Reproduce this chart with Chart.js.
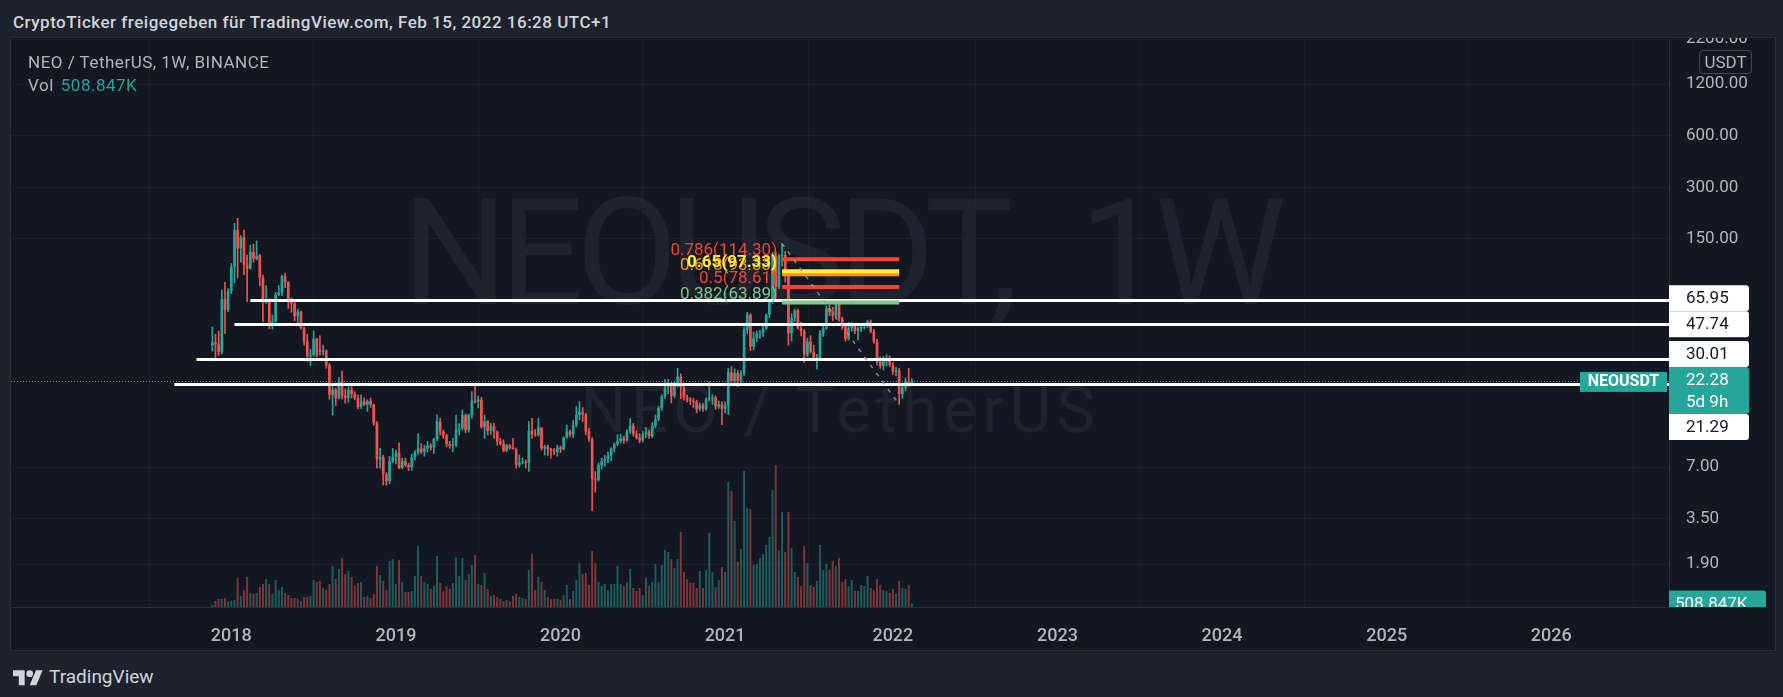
<!DOCTYPE html>
<html>
<head>
<meta charset="utf-8">
<title>NEOUSDT 1W</title>
<script src="https://cdn.jsdelivr.net/npm/chart.js@4.4.0/dist/chart.umd.min.js"></script>
<style>
  body { margin: 0; width: 1783px; height: 697px; overflow: hidden; background: #1e222d; font-family: Roboto, sans-serif; }
  #header { position: absolute; left: 13px; top: 11px; font-size: 17px; letter-spacing: 0.5px; font-weight: 500; color: #d1d4dc; line-height: 22px; white-space: nowrap; }
  #pane { position: absolute; left: 11px; top: 38px; width: 1764px; height: 612px; background: #131722; outline: 1px solid #2a2e39; }
  #pane canvas { position: absolute; left: 0; top: 0; }
  .wm { position: absolute; left: 0; width: 1658px; text-align: center; color: rgba(178, 181, 190, 0.08); white-space: nowrap; line-height: 1; }
  #wm1 { top: 142px; font-size: 148px; letter-spacing: -8px; word-spacing: 40px; }
  #wm2 { top: 340px; font-size: 65px; letter-spacing: 5px; }
  #legend { position: absolute; left: 17px; top: 13px; font-size: 17px; letter-spacing: 0.5px; color: #b2b5be; line-height: 23px; }
  #legend .val { color: #26a69a; margin-left: 7px; }
  #unit { position: absolute; left: 1688px; top: 12px; width: 53px; height: 24px; box-sizing: border-box; border: 1px solid #434651; border-radius: 4px; color: #b2b5be; font-size: 17px; text-align: center; line-height: 22px; }
  #footer { position: absolute; left: 13px; top: 665px; display: flex; align-items: center; gap: 6px; color: #d1d4dc; font-size: 19px; }
</style>
</head>
<body>
<div id="header">CryptoTicker freigegeben für TradingView.com, Feb 15, 2022 16:28 UTC+1</div>
<div id="pane">
  <div class="wm" id="wm1">NEOUSDT, 1W</div>
  <div class="wm" id="wm2">NEO / TetherUS</div>
  <canvas id="chart" width="1764" height="612"></canvas>
  <div id="legend">
    <div>NEO / TetherUS, 1W, BINANCE</div>
    <div>Vol<span class="val">508.847K</span></div>
  </div>
  <div id="unit">USDT</div>
</div>
<div id="footer">
  <svg width="30" height="20" viewBox="0 0 36 24"><path d="M14 22H7V11H0V4h14v18z" fill="#d1d4dc"/><circle cx="20" cy="8" r="4" fill="#d1d4dc"/><path d="M28 22h-8l7.5-18h8L28 22z" fill="#d1d4dc"/></svg>
  <span>TradingView</span>
</div>

<script>
// weekly candles NEO/USDT, first bar = week of 20 Nov 2017
const opens = [
  35.8, 37.5, 36.4, 32.9, 67, 57.8, 74.6, 103, 169, 132,
  154, 106, 101, 126, 115, 120, 89.2, 64.7, 66, 46.8,
  49.4, 70.7, 73, 91.2, 84, 66.6, 63, 53.1, 56.5, 45.2,
  38, 31, 31.6, 39.3, 33.6, 33, 33.5, 27.5, 18.5, 19.8,
  17.6, 22.1, 18.3, 17.7, 19.8, 18.7, 17.7, 15.7, 16.9, 16.2,
  17, 16.2, 12.7, 7.8, 8, 6.36, 5.8, 7.6, 8, 8.5,
  6.9, 7.6, 7.2, 7, 8, 8.5, 9, 8.6, 9, 9.35,
  9.1, 10.2, 12.9, 11.3, 10.7, 9.5, 9.3, 9.45, 11.6, 11.8,
  14.1, 11.5, 14.1, 17.1, 16.8, 17.3, 12, 13, 11.4, 12.1,
  11.3, 9.9, 9.6, 8.7, 9.4, 9, 8.95, 7.2, 7.45, 7.5,
  7.4, 11.4, 10.9, 10.8, 11.9, 9, 9.2, 8.9, 8.75, 8.6,
  9.1, 8.9, 10.4, 11.3, 10.8, 12.3, 14.1, 14.6, 14.2, 11.3,
  10.2, 5.95, 5.9, 7.2, 7.6, 7.8, 8.2, 9, 9.5, 9.9,
  10.3, 10, 11.3, 12.2, 10.9, 10.4, 10, 10.9, 11.2, 10.6,
  12.2, 13.3, 15.5, 18.1, 20.5, 21.2, 18.2, 21, 23.6, 20.4,
  17.9, 17.4, 17, 16.8, 15.2, 16.1, 15.3, 17.4, 17.6, 17.8,
  15.8, 16.3, 15.3, 16, 25, 22.2, 24.8, 22.2, 24.6, 44.3,
  54.3, 35.4, 39.5, 42, 42.5, 45, 54.3, 64.7, 120, 79,
  119, 121, 92.5, 42.3, 51.7, 57.5, 45.2, 43.5, 31.6, 37.8,
  33, 30.2, 30.4, 42.2, 45.2, 59, 56, 53.5, 65, 51.7,
  46.8, 39.2, 45.2, 47.2, 43.5, 45.2, 46.5, 47.5, 49.4, 43.2,
  37.8, 28.8, 27.2, 29.6, 30.2, 27.6, 25.2, 25.6, 18.7, 20.4,
  22.2, 21.6
];
const highs = [
  46, 41.7, 43.6, 75.6, 83.8, 77, 108, 185, 198, 157,
  169, 121, 138, 140, 146, 122, 92.5, 80, 67, 54,
  73, 80, 92.5, 95, 84.6, 68, 64, 58.5, 57, 46,
  41.7, 34, 43.6, 39.5, 40.9, 36.1, 33.8, 28.2, 21.1, 20.2,
  23.3, 25.4, 20, 21.1, 20.6, 19.3, 18.5, 18.4, 17.7, 17.3,
  17.7, 16.3, 12.9, 9, 8.2, 6.5, 8.1, 9, 8.8, 9.7,
  7.9, 7.9, 7.4, 8.3, 8.75, 11, 9.6, 9.4, 9.9, 9.6,
  10.3, 14.1, 13.5, 11.5, 10.9, 9.9, 10.3, 14.1, 12.6, 15.1,
  14.3, 14.3, 19.3, 21.1, 18.2, 17.9, 14.1, 13.1, 12.6, 12.6,
  11.4, 10.3, 10.1, 9.5, 9.5, 10.3, 9.05, 8.25, 7.9, 7.7,
  12.9, 13.5, 11.6, 13.5, 11.9, 9.4, 9.4, 9, 9, 9.4,
  9.3, 10.5, 12.3, 11.5, 13.1, 15.8, 16.9, 15.6, 14.4, 11.8,
  10.4, 6.6, 7.4, 7.9, 8.2, 8.6, 9.1, 9.7, 10.8, 10.9,
  10.6, 11.6, 13.5, 12.6, 11.4, 11, 11.3, 11.9, 11.5, 12.7,
  14.1, 15.8, 18.5, 22.8, 22.8, 21.8, 22, 26.4, 24.5, 20.8,
  18.4, 17.8, 17.6, 17.2, 16.6, 16.5, 17.8, 22, 18.5, 18.2,
  17, 16.8, 16.8, 26.4, 27, 26.2, 25.6, 25.6, 46, 56,
  55, 43, 43.5, 44, 47, 55, 66, 125, 126, 122,
  141, 127, 98, 55, 58.5, 58.5, 49, 44.5, 39.5, 41,
  36, 31.8, 44, 47, 61, 62, 60, 66, 66, 52.5,
  48, 49, 49, 48, 46, 47.5, 48.5, 50.5, 50.5, 44.5,
  39, 30.8, 31, 31.6, 31.2, 28.5, 26.8, 26.4, 21, 23.2,
  26.4, 22.9
];
const lows = [
  33.3, 29.1, 31.3, 32, 42, 56.5, 72, 83, 89, 110,
  93, 64.7, 100, 110, 113, 80, 49.4, 63, 45, 44.7,
  49, 70, 70, 78, 59, 56, 50, 47, 44.7, 36,
  28.9, 27.4, 31, 30.8, 31.5, 31.6, 26.4, 17.4, 14.1, 16,
  17.5, 17.5, 16.5, 16.7, 17.7, 17.3, 15.3, 15.4, 16, 14.8,
  15.6, 12.3, 6.9, 6.9, 5.5, 5.5, 5.6, 7.4, 7.3, 6.85,
  6.85, 7.05, 6.7, 6.7, 7.7, 8.3, 8.4, 8.1, 8.6, 8.8,
  8.4, 10, 10.8, 10.3, 9.2, 9, 8.6, 9.2, 10.8, 11.5,
  11.1, 11.2, 13.5, 16.6, 15.5, 11.8, 10.3, 10.8, 10.9, 10.3,
  9.4, 9.4, 8.6, 8.65, 8.9, 8.9, 6.9, 7, 7.3, 6.9,
  6.6, 10.3, 10.6, 10.6, 8.8, 8.25, 8.2, 7.9, 8.3, 8.1,
  8.5, 8.8, 10.3, 10.5, 10.4, 12, 13.2, 12.9, 10.8, 9.9,
  3.9, 5, 5.8, 6.8, 7.1, 7.4, 7.6, 8.6, 9.35, 9.7,
  9.6, 9.9, 11, 10.6, 10.2, 9.7, 9.8, 10.4, 10.3, 10.4,
  11.9, 13, 15, 17.6, 18.8, 16.6, 17.8, 20.5, 17.5, 17.2,
  16.8, 16.2, 15.6, 14.5, 14.9, 14.8, 15, 17, 16.3, 15.2,
  15.4, 12.4, 14.5, 14.2, 21, 21.5, 20.6, 21.8, 24, 42,
  33.5, 33.8, 37.8, 39.5, 40.5, 44.5, 52, 63, 66, 77,
  104, 84, 36, 38, 49.5, 44.7, 40.8, 28.5, 30.8, 32.5,
  29.8, 26.2, 29.8, 40.5, 44.5, 53.5, 50, 52, 49.5, 44.5,
  38, 38.5, 43.5, 42, 38.6, 43.2, 44.7, 45.5, 42.5, 37,
  27.6, 26.4, 25.8, 27.2, 27, 24.3, 23.8, 16.24, 17.6, 19.5,
  20.8, 21.1
];
const closes = [
  37.5, 36.4, 32.9, 67, 57.8, 74.6, 103, 169, 132, 154,
  106, 101, 126, 115, 120, 89.2, 64.7, 66, 46.8, 49.4,
  70.7, 73, 91.2, 84, 66.6, 63, 53.1, 56.5, 45.2, 38,
  31, 31.6, 39.3, 31.6, 33, 33.5, 27.5, 18.5, 19.8, 17.6,
  22.1, 18.3, 17.7, 19.8, 18.7, 17.7, 15.7, 16.9, 16.2, 17,
  16.2, 12.7, 7.8, 8, 6.36, 5.8, 7.6, 8, 8.5, 6.9,
  7.6, 7.2, 7, 8, 8.5, 9, 8.6, 9, 9.35, 9.1,
  10.2, 12.9, 11.3, 10.7, 9.5, 9.3, 9.45, 11.6, 11.8, 14.1,
  11.5, 14.1, 17.1, 16.8, 17.3, 12, 13, 11.4, 12.1, 11.3,
  9.9, 9.6, 8.7, 9.4, 9, 8.95, 7.2, 7.45, 7.5, 7.4,
  11.4, 10.9, 10.8, 11.9, 9, 9.2, 8.9, 8.75, 8.6, 9.1,
  8.9, 10.4, 11.3, 10.8, 12.3, 14.1, 14.6, 14.2, 11.3, 10.2,
  5.95, 5.9, 7.2, 7.6, 7.8, 8.2, 9, 9.5, 9.9, 10.3,
  10, 11.3, 12.2, 10.9, 10.4, 10, 10.9, 11.2, 10.6, 12.2,
  13.3, 15.5, 18.1, 20.5, 21.2, 18.2, 21, 23.6, 20.4, 17.9,
  17.4, 17, 16.8, 15.2, 16.1, 15.3, 17.4, 17.6, 17.8, 15.8,
  16.3, 15.3, 16, 25, 22.2, 24.8, 22.2, 24.6, 44.3, 54.3,
  35.4, 39.5, 42, 42.5, 45, 54.3, 64.7, 120, 79, 119,
  121, 92.5, 42.3, 51.7, 57.5, 45.2, 43.5, 31.6, 37.8, 33,
  30.2, 30.4, 42.2, 45.2, 59, 56, 53.5, 65, 51.7, 46.8,
  39.2, 45.2, 47.2, 43.5, 45.2, 46.5, 47.5, 49.4, 43.2, 37.8,
  28.8, 27.2, 29.6, 30.2, 27.6, 25.2, 25.6, 18.7, 20.4, 22.2,
  21.6, 22.28
];
// weekly volume, thousands of NEO
const volumes = [
  282, 846, 1128, 1128, 1227, 747, 846, 987, 4089, 1551,
  2397, 4230, 1974, 1833, 1974, 2820, 3243, 3948, 3243, 1833,
  3807, 2397, 2820, 1974, 1692, 1269, 1269, 1128, 846, 1410,
  1410, 1551, 3807, 3525, 3666, 2679, 2397, 3243, 5781, 3948,
  5358, 6909, 4653, 5076, 4230, 2961, 3384, 3525, 1410, 1551,
  1269, 1833, 5781, 4512, 3666, 2397, 6486, 6768, 3243, 6627,
  3525, 2115, 2115, 2256, 4371, 8601, 4371, 3525, 3243, 2538,
  2961, 7191, 3384, 2256, 2961, 2538, 3384, 7050, 4371, 6909,
  3807, 4653, 5922, 7332, 3243, 3102, 4794, 2538, 1551, 1692,
  1410, 1128, 846, 987, 846, 1551, 1833, 1410, 1269, 1128,
  5217, 7473, 2397, 4230, 3525, 2397, 1410, 1128, 1128, 1128,
  987, 1692, 3102, 1128, 2256, 3807, 6204, 4653, 4794, 3102,
  7896, 6204, 3525, 2961, 3243, 2397, 3243, 3243, 5781, 3243,
  2961, 3525, 5358, 2679, 2256, 2679, 1692, 4089, 2961, 3525,
  6063, 3525, 5922, 8037, 7755, 6768, 5499, 6768, 10575, 4935,
  3948, 3384, 3384, 2679, 5076, 2679, 5217, 10434, 4935, 2820,
  3807, 5640, 4935, 17625, 16356, 12126, 6345, 8178, 19176, 13959,
  13818, 5922, 6063, 6909, 7473, 8742, 9870, 16497, 20022, 8037,
  13395, 7755, 13395, 8319, 4935, 4230, 2961, 8601, 6204, 3102,
  2820, 3666, 8742, 5217, 6063, 5217, 6486, 5781, 6909, 3525,
  3948, 2961, 3807, 2256, 2256, 3102, 2961, 4371, 2679, 2397,
  3948, 3102, 2397, 2256, 1974, 2538, 1833, 3666, 2679, 2538,
  3102, 508.847
];

// time axis: week index of first bar of each year
const yearWeeks = [6, 58, 110, 162, 215, 267, 319, 371, 423];
const yearLabels = ['2018', '2019', '2020', '2021', '2022', '2023', '2024', '2025', '2026'];
const priceTicks = [2200, 1200, 600, 300, 150, 7, 3.5, 1.9];

// horizontal levels drawn on the chart
const levelPrices = [65.95, 47.74, 30.01, 21.29];
const levelStartWeeks = [12, 7, -5, -12];

// fib retracement
const fibLevels = [0.786, 0.5, 0.382, 0.618, 0.65];
const fibPrices = [114.30, 78.61, 63.89, 93.33, 97.33];
const fibColors = ['#f44336', '#f44336', '#81c784', '#ff9800', '#ffeb3b'];
const fibStartWeek = 180;
const fibEndWeek = 217;

const countdown = '5d 9h';
const symbol = 'NEOUSDT';

const UP = '#26a69a';
const DOWN = '#ef5350';
const last = closes.length - 1;
const lastPrice = closes[last];

const weeks = opens.map((_, i) => i);
const isUp = weeks.map(i => closes[i] >= opens[i]);

const overlay = {
    id: 'overlay',
    afterDatasetsDraw(chart) {
        const { ctx, chartArea: a, scales: { x, y } } = chart;
        ctx.save();
        ctx.beginPath();
        ctx.rect(a.left, a.top, a.right - a.left, a.bottom - a.top);
        ctx.clip();

        // last price dotted line
        const yl = Math.round(y.getPixelForValue(lastPrice)) + 0.5;
        ctx.strokeStyle = UP;
        ctx.lineWidth = 1;
        ctx.setLineDash([1, 2]);
        ctx.beginPath();
        ctx.moveTo(a.left, yl);
        ctx.lineTo(a.right, yl);
        ctx.stroke();
        ctx.setLineDash([]);

        // white levels
        ctx.strokeStyle = '#ffffff';
        ctx.lineWidth = 3;
        levelPrices.forEach((p, k) => {
            const yy = Math.round(y.getPixelForValue(p)) + 0.5;
            ctx.beginPath();
            ctx.moveTo(x.getPixelForValue(levelStartWeeks[k]), yy);
            ctx.lineTo(a.right, yy);
            ctx.stroke();
        });

        // fib lines
        const fx0 = x.getPixelForValue(fibStartWeek);
        const fx1 = x.getPixelForValue(fibEndWeek);
        ctx.lineWidth = 4;
        fibPrices.forEach((p, k) => {
            const yy = y.getPixelForValue(p);
            ctx.strokeStyle = fibColors[k];
            ctx.beginPath();
            ctx.moveTo(fx0, yy);
            ctx.lineTo(fx1, yy);
            ctx.stroke();
        });

        // trend line of the fib
        ctx.strokeStyle = 'rgba(149,152,161,0.9)';
        ctx.lineWidth = 1.5;
        ctx.setLineDash([4, 6]);
        ctx.beginPath();
        ctx.moveTo(fx0, y.getPixelForValue(highs[fibStartWeek]));
        ctx.lineTo(fx1, y.getPixelForValue(lows[fibEndWeek]));
        ctx.stroke();
        ctx.setLineDash([]);

        // fib labels
        ctx.textAlign = 'right';
        ctx.textBaseline = 'alphabetic';
        fibPrices.forEach((p, k) => {
            const yy = y.getPixelForValue(p);
            ctx.font = (fibLevels[k] === 0.65 ? 'bold ' : '') + '17px Roboto, sans-serif';
            ctx.fillStyle = fibColors[k];
            ctx.fillText(fibLevels[k] + '(' + p.toFixed(2) + ')', fx0 - 5, yy - 4);
        });
        ctx.restore();
    },
    afterDraw(chart) {
        const { ctx, chartArea: a, scales: { y, yv } } = chart;
        const boxL = a.right;
        const boxW = 80;
        ctx.save();
        ctx.textBaseline = 'middle';

        // symbol tag left of the axis
        const yc = y.getPixelForValue(lastPrice);
        ctx.fillStyle = UP;
        ctx.fillRect(boxL - 89, yc - 9, 87, 20);
        ctx.fillStyle = '#ffffff';
        ctx.font = 'bold 16px Roboto, sans-serif';
        ctx.textAlign = 'center';
        ctx.fillText(symbol, boxL - 45.5, yc + 1);

        // axis tags, pushed apart around the current price tag
        const cur = { y0: yc - 14, h: 47 };
        const tags = levelPrices.map(p => ({ price: p, h: 26, y0: y.getPixelForValue(p) - 13 }));
        let limit = cur.y0;
        tags.filter(t => t.price > lastPrice).sort((p, q) => p.price - q.price).forEach(t => {
            if (t.y0 + t.h > limit) t.y0 = limit - t.h;
            limit = t.y0;
        });
        limit = cur.y0 + cur.h;
        tags.filter(t => t.price < lastPrice).sort((p, q) => q.price - p.price).forEach(t => {
            if (t.y0 < limit) t.y0 = limit;
            limit = t.y0 + t.h;
        });

        ctx.font = '17px Roboto, sans-serif';
        ctx.textAlign = 'left';
        tags.forEach(t => {
            ctx.fillStyle = '#ffffff';
            ctx.beginPath();
            ctx.roundRect(boxL, t.y0, boxW, t.h, [0, 3, 3, 0]);
            ctx.fill();
            ctx.fillStyle = '#131722';
            ctx.fillText(t.price.toFixed(2), boxL + 17, t.y0 + t.h / 2 + 1);
        });
        ctx.fillStyle = UP;
        ctx.beginPath();
        ctx.roundRect(boxL, cur.y0, boxW, cur.h, [0, 3, 3, 0]);
        ctx.fill();
        ctx.fillStyle = '#ffffff';
        ctx.fillText(lastPrice.toFixed(2), boxL + 17, cur.y0 + 14);
        ctx.fillText(countdown, boxL + 17, cur.y0 + 36);

        // volume tag, clipped at the bottom of the plot
        ctx.beginPath();
        ctx.rect(boxL, a.top, 106, a.bottom - a.top);
        ctx.clip();
        const yvol = yv.getPixelForValue(volumes[last]);
        ctx.fillStyle = UP;
        ctx.beginPath();
        ctx.roundRect(boxL, yvol - 13, boxW + 17, 26, [0, 3, 3, 0]);
        ctx.fill();
        ctx.fillStyle = '#ffffff';
        ctx.fillText(volumes[last].toFixed(3) + 'K', boxL + 6, yvol + 1);
        ctx.restore();
    }
};

Chart.defaults.font.family = 'Roboto, sans-serif';

new Chart(document.getElementById('chart'), {
    type: 'bar',
    data: {
        datasets: [
            {
                label: 'body',
                order: 0,
                data: weeks.map(i => ({ x: i, y: [opens[i], closes[i]] })),
                backgroundColor: weeks.map(i => isUp[i] ? UP : DOWN),
                grouped: false,
                barPercentage: 0.85,
                categoryPercentage: 1,
                minBarLength: 1,
                borderWidth: 0,
            },
            {
                label: 'wick',
                order: 1,
                data: weeks.map(i => ({ x: i, y: [lows[i], highs[i]] })),
                backgroundColor: weeks.map(i => isUp[i] ? UP : DOWN),
                grouped: false,
                barThickness: 1,
                borderWidth: 0,
            },
            {
                label: 'Vol',
                order: 2,
                yAxisID: 'yv',
                data: weeks.map(i => ({ x: i, y: volumes[i] })),
                backgroundColor: weeks.map(i => isUp[i] ? 'rgba(38,166,154,0.5)' : 'rgba(239,83,80,0.5)'),
                grouped: false,
                barPercentage: 0.62,
                categoryPercentage: 1,
                borderWidth: 0,
            },
        ],
    },
    options: {
        responsive: false,
        animation: false,
        devicePixelRatio: 1,
        layout: { padding: { top: 1, left: 0, right: 0, bottom: 0 } },
        plugins: { legend: { display: false }, tooltip: { enabled: false } },
        scales: {
            x: {
                type: 'linear',
                min: -63.6,
                max: 460.2,
                offset: false,
                afterFit: s => { s.height = 43; s.paddingLeft = 0; s.paddingRight = 0; },
                afterBuildTicks: s => { s.ticks = yearWeeks.map(v => ({ value: v })); },
                ticks: {
                    autoSkip: false,
                    maxRotation: 0,
                    padding: 19,
                    color: '#b2b5be',
                    font: { size: 18, weight: '500' },
                    callback: (v, i) => yearLabels[i],
                },
                grid: { color: 'rgba(42,46,57,0.35)', drawTicks: false },
                border: { display: true, color: '#2a2e39' },
            },
            y: {
                type: 'logarithmic',
                position: 'right',
                min: 1.069,
                max: 2202,
                afterFit: s => { s.width = 106; s.paddingTop = 0; s.paddingBottom = 0; },
                afterBuildTicks: s => { s.ticks = priceTicks.map(v => ({ value: v })); },
                ticks: {
                    autoSkip: false,
                    padding: 17,
                    color: '#b2b5be',
                    font: { size: 17 },
                    callback: v => Number(v).toFixed(2),
                },
                grid: { color: 'rgba(42,46,57,0.35)', drawTicks: false },
                border: { display: true, color: '#2a2e39' },
            },
            yv: {
                type: 'linear',
                display: false,
                min: 0,
                max: 80088,
            },
        },
    },
    plugins: [overlay],
});
</script>
</body>
</html>
